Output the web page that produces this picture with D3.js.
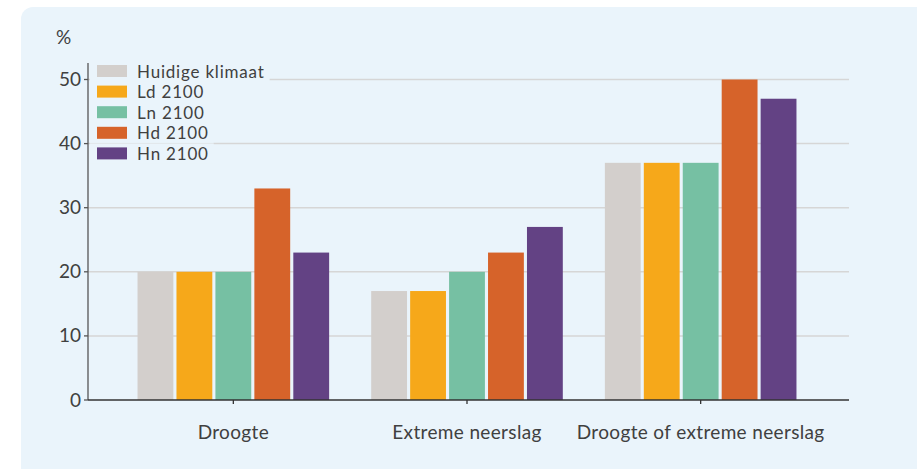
<!DOCTYPE html>
<head>
  <meta charset="utf-8">
  <title>Klimaat</title>
</head>
<script src="https://d3js.org/d3.v7.min.js"></script>
<style>
  body { margin: 0; background: #fff; }
  text { font-family: Lato, "Open Sans", sans-serif; fill: #404040; }
</style>
<div id="my_dataviz"></div>
<script>

// data
var groups = ["Droogte", "Extreme neerslag", "Droogte of extreme neerslag"];
var series = ["Huidige klimaat", "Ld 2100", "Ln 2100", "Hd 2100", "Hn 2100"];
var colors = ["#d3cfcc", "#f6a81a", "#76c0a3", "#d6632a", "#634284"];
var huidige = [20, 17, 37];
var ld2100  = [20, 17, 37];
var ln2100  = [20, 20, 37];
var hd2100  = [33, 23, 50];
var hn2100  = [23, 27, 47];
var yTicks  = [0, 10, 20, 30, 40, 50];

var values = [huidige, ld2100, ln2100, hd2100, hn2100];

var W = 917, H = 469;

var svg = d3.select("#my_dataviz")
  .append("svg")
    .attr("width", W)
    .attr("height", H);

// panel
svg.append("rect")
  .attr("x", 21).attr("y", 7)
  .attr("width", W).attr("height", H + 20)
  .attr("rx", 12)
  .attr("fill", "#eaf4fb");

var axisLeft = 88, axisRight = 849, y0 = 400;

var y = d3.scaleLinear()
  .domain([0, 50])
  .range([y0, 79.5]);

var x0 = d3.scaleBand()
  .domain(groups)
  .range([116.5, 817.5])
  .paddingInner(0.18)
  .paddingOuter(0.09);

var x1 = d3.scaleBand()
  .domain(series)
  .range([0, x0.bandwidth()])
  .paddingInner(0.08);

// gridlines
svg.append("g")
  .selectAll("line")
  .data(yTicks.filter(function(d){ return d > 0; }))
  .enter()
  .append("line")
    .attr("x1", axisLeft).attr("x2", axisRight)
    .attr("y1", function(d){ return y(d); })
    .attr("y2", function(d){ return y(d); })
    .attr("stroke", "#d6d6d6")
    .attr("stroke-width", 1.5);

// bars
var rows = [];
groups.forEach(function(g, gi){
  series.forEach(function(s, si){
    rows.push({group: g, series: s, value: values[si][gi], color: colors[si]});
  });
});

svg.append("g")
  .selectAll("rect")
  .data(rows)
  .enter()
  .append("rect")
    .attr("x", function(d){ return x0(d.group) + x1(d.series); })
    .attr("y", function(d){ return y(d.value); })
    .attr("width", x1.bandwidth())
    .attr("height", function(d){ return y0 - y(d.value); })
    .attr("fill", function(d){ return d.color; });

// y axis
svg.append("line")
  .attr("x1", axisLeft).attr("x2", axisLeft)
  .attr("y1", 63).attr("y2", y0)
  .attr("stroke", "#555").attr("stroke-width", 1.3);

svg.append("g")
  .selectAll("line")
  .data(yTicks)
  .enter()
  .append("line")
    .attr("x1", axisLeft - 4).attr("x2", axisLeft)
    .attr("y1", function(d){ return y(d); })
    .attr("y2", function(d){ return y(d); })
    .attr("stroke", "#555").attr("stroke-width", 1.3);

svg.append("g")
  .selectAll("text")
  .data(yTicks)
  .enter()
  .append("text")
    .attr("x", 81)
    .attr("y", function(d){ return y(d) + 6.5; })
    .attr("text-anchor", "end")
    .style("font-size", "19px")
    .text(function(d){ return d; });

svg.append("text")
  .attr("x", 56).attr("y", 44)
  .style("font-size", "19px")
  .text("%");

// x axis
svg.append("line")
  .attr("x1", axisLeft).attr("x2", axisRight)
  .attr("y1", y0).attr("y2", y0)
  .attr("stroke", "#333").attr("stroke-width", 1.3);

svg.append("g")
  .selectAll("line")
  .data(groups)
  .enter()
  .append("line")
    .attr("x1", function(d){ return x0(d) + x0.bandwidth() / 2; })
    .attr("x2", function(d){ return x0(d) + x0.bandwidth() / 2; })
    .attr("y1", y0).attr("y2", y0 + 4)
    .attr("stroke", "#333").attr("stroke-width", 1.3);

svg.append("g")
  .selectAll("text")
  .data(groups)
  .enter()
  .append("text")
    .attr("x", function(d){ return x0(d) + x0.bandwidth() / 2; })
    .attr("y", 439)
    .attr("text-anchor", "middle")
    .style("font-size", "19px")
    .style("letter-spacing", "0.35px")
    .text(function(d){ return d; });

// legend
var legend = svg.append("g")
  .selectAll("g")
  .data(series)
  .enter()
  .append("g")
    .attr("transform", function(d, i){ return "translate(97," + (65 + i * 20.6) + ")"; });

legend.append("rect")
  .attr("class", "legbg")
  .attr("x", -7).attr("y", -4)
  .attr("height", 20)
  .attr("fill", "#eaf4fb");

legend.append("rect")
  .attr("width", 30).attr("height", 12)
  .attr("fill", function(d, i){ return colors[i]; });

legend.append("text")
  .attr("x", 40).attr("y", 12.5)
  .style("font-size", "17px")
  .style("letter-spacing", "0.8px")
  .text(function(d){ return d; });

legend.each(function(){
  var g = d3.select(this);
  var w = g.select("text").node().getComputedTextLength();
  g.select(".legbg").attr("width", 40 + w + 12);
});

</script>
